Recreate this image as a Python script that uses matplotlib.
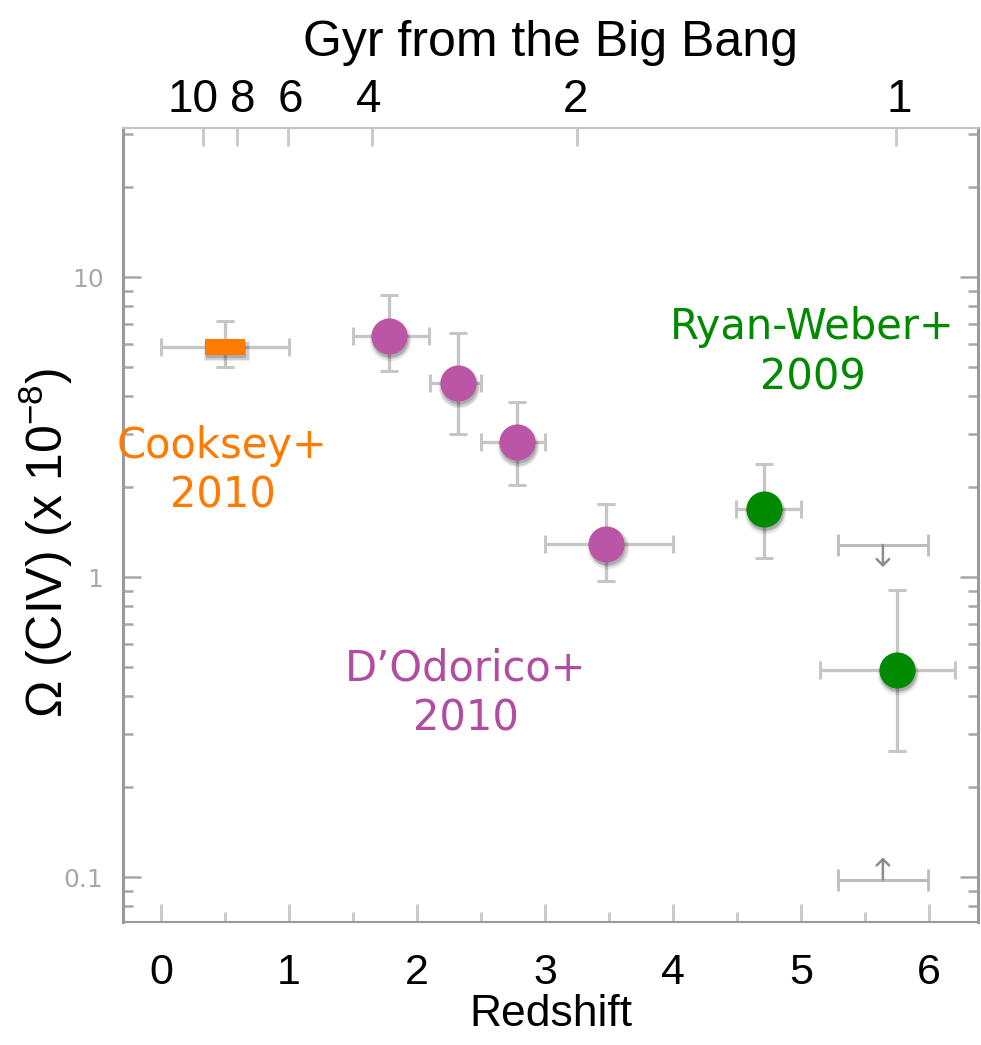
import matplotlib
matplotlib.use("Agg")
import matplotlib.pyplot as plt
import matplotlib.transforms as mtransforms
from matplotlib import font_manager as fm
from matplotlib.ticker import LogLocator, NullFormatter, FixedLocator, MultipleLocator

# ---------------- data ----------------
# Cooksey+2010
cook_z = [0.5]
cook_om = [5.84]
cook_zerr = [0.5]
cook_om_lo = [0.84]
cook_om_hi = [1.29]

# D'Odorico+2010
dod_z = [1.78, 2.32, 2.78, 3.48]
dod_om = [6.37, 4.43, 2.81, 1.29]
dod_z_lo = [0.28, 0.22, 0.28, 0.48]
dod_z_hi = [0.31, 0.18, 0.22, 0.52]
dod_om_lo = [1.50, 1.43, 0.78, 0.32]
dod_om_hi = [2.34, 2.06, 1.03, 0.46]

# Ryan-Weber+2009
rw_z = [4.71, 5.75]
rw_om = [1.69, 0.49]
rw_z_lo = [0.22, 0.60]
rw_z_hi = [0.29, 0.45]
rw_om_lo = [0.53, 0.226]
rw_om_hi = [0.69, 0.415]

# limits (gray)
lim_z = [5.64, 5.64]
lim_om = [1.28, 0.098]
lim_zerr = [0.35, 0.35]
lim_dir = ["upper", "lower"]

# top axis: Gyr from the Big Bang
age_ticks_z = [0.33, 0.59, 0.99, 1.65, 3.25, 5.74]
age_labels = ["10", "8", "6", "4", "2", "1"]

x_ticks = [0, 1, 2, 3, 4, 5, 6]

# ---------------- style ----------------
def has_font(name):
    try:
        fm.findfont(name, fallback_to_default=False)
        return True
    except Exception:
        return False

narrow = "Liberation Sans Narrow" if has_font("Liberation Sans Narrow") else "Liberation Sans"
plt.rcParams["font.family"] = [narrow, "DejaVu Sans"]
plt.rcParams["mathtext.default"] = "regular"

ORANGE = "#ff7a00"
PURPLE = "#bb55a5"
GREEN = "#008a00"
ERRC = "#c6c6c6"
AXC = "#9a9a9a"
age_label_nudge_px = [-10, 6, 3, -3, -2, 4]   # small horizontal nudges of crowded top labels

fig = plt.figure(figsize=(9.81, 10.45), dpi=100)
ax = fig.add_axes([123 / 981, 1 - 922 / 1045, (978 - 123) / 981, (922 - 128) / 1045])
ax.set_yscale("log")
ax.set_xlim(-0.297, 6.383)
ax.set_ylim(0.0708, 31.4)

for s in ax.spines.values():
    s.set_color(AXC)
    s.set_linewidth(1.5)
ax.spines["left"].set_linewidth(2.2)
ax.spines["right"].set_linewidth(2.2)
ax.spines["top"].set_color("#c4c4c4")

# ticks
ax.xaxis.set_major_locator(FixedLocator(x_ticks))
ax.xaxis.set_minor_locator(MultipleLocator(0.5))
ax.yaxis.set_minor_locator(LogLocator(base=10, subs=range(2, 10), numticks=20))
ax.yaxis.set_minor_formatter(NullFormatter())
ax.set_yticks([0.1, 1, 10])
ax.set_yticklabels(["0.1", "1", "10"], family="DejaVu Sans")
ax.tick_params(axis="x", which="major", direction="in", length=13, width=2, color="#c8c8c8",
               top=False, bottom=True, labelsize=31, pad=22, labelcolor="black")
ax.tick_params(axis="x", which="minor", direction="in", length=7, width=2, color="#c8c8c8",
               top=False, bottom=True)
ax.tick_params(axis="y", which="major", direction="in", length=13, width=1.8, color="#a8a8a8",
               left=True, right=True, labelsize=18, pad=14, labelcolor="#a8a8a8")
ax.tick_params(axis="y", which="minor", direction="in", length=7, width=1.8, color="#a8a8a8",
               left=True, right=True)

ax.set_xlabel("Redshift", fontsize=32, labelpad=1)
ax.set_ylabel("Ω (CIV) (x 10$^{-8}$)", fontsize=36)
ax.yaxis.set_label_coords(-0.056, 0.478)

# top axis: ticks + labels
top = ax.secondary_xaxis("top")
top.set_xticks(age_ticks_z)
top.set_xticklabels([])
top.tick_params(direction="in", length=13, width=2, color="#c8c8c8")
top.spines["top"].set_color("#c4c4c4")
top.spines["top"].set_linewidth(1.5)
blend = mtransforms.blended_transform_factory(ax.transData, ax.transAxes)
for z, lab, nud in zip(age_ticks_z, age_labels, age_label_nudge_px):
    tr = blend + mtransforms.Affine2D().translate(nud, 16)
    ax.text(z, 1.0, lab, transform=tr, ha="center", va="baseline", fontsize=33, color="black")
ax.text(0.5, 1.0, "Gyr from the Big Bang", transform=ax.transAxes + mtransforms.Affine2D().translate(0, 72),
        ha="center", va="baseline", fontsize=36, color="black")

eb_kw = dict(fmt="none", ecolor=ERRC, elinewidth=2.4, capsize=6.5, capthick=2.2, zorder=2)

def shadow(x, y, marker, markersize):
    for dx, dy, a, grow in [(1.5, -4, 0.08, 4), (1.5, -3.5, 0.12, 2), (1, -3, 0.16, 0)]:
        tr = mtransforms.offset_copy(ax.transData, fig=fig, x=dx, y=dy, units="dots")
        ax.plot(x, y, linestyle="none", marker=marker, markersize=markersize + grow,
                color="black", alpha=a, transform=tr, markeredgewidth=0, zorder=3)

# Cooksey
ax.errorbar(cook_z, cook_om, xerr=cook_zerr, yerr=[cook_om_lo, cook_om_hi], **eb_kw)
rect = [(-1, -0.42), (1, -0.42), (1, 0.42), (-1, 0.42), (-1, -0.42)]
shadow(cook_z, cook_om, rect, 29)
ax.plot(cook_z, cook_om, linestyle="none", marker=rect, markersize=29, color=ORANGE,
        markeredgewidth=0, zorder=4)

# D'Odorico
ax.errorbar(dod_z, dod_om, xerr=[dod_z_lo, dod_z_hi], yerr=[dod_om_lo, dod_om_hi], **eb_kw)
shadow(dod_z, dod_om, "o", 26)
ax.plot(dod_z, dod_om, linestyle="none", marker="o", markersize=26, color=PURPLE,
        markeredgewidth=0, zorder=4)

# Ryan-Weber
ax.errorbar(rw_z, rw_om, xerr=[rw_z_lo, rw_z_hi], yerr=[rw_om_lo, rw_om_hi], **eb_kw)
shadow(rw_z, rw_om, "o", 26)
ax.plot(rw_z, rw_om, linestyle="none", marker="o", markersize=26, color=GREEN,
        markeredgewidth=0, zorder=4)

# limits
ax.errorbar(lim_z, lim_om, xerr=lim_zerr, fmt="none", ecolor="#bcbcbc", elinewidth=2.2,
            capsize=8, capthick=2, zorder=2)
for z, om, d in zip(lim_z, lim_om, lim_dir):
    dy = -16 if d == "upper" else 16
    ax.annotate("", xy=(z, om), xytext=(0, dy), textcoords="offset points",
                arrowprops=dict(arrowstyle="<-,head_length=0.45,head_width=0.45", color="#8c8c8c",
                                lw=1.8, shrinkA=0, shrinkB=0))

# labels
ax.text(0.48, 2.26, "Cooksey+\n2010", color=ORANGE, fontsize=30, ha="center", va="center",
        family="DejaVu Sans", linespacing=1.25)
ax.text(2.38, 0.41, "D\u2019Odorico+\n2010", color="#b24ca2", fontsize=30, ha="center", va="center",
        family="DejaVu Sans", linespacing=1.25)
ax.text(5.09, 5.6, "Ryan-Weber+\n2009", color=GREEN, fontsize=30, ha="center", va="center",
        family="DejaVu Sans", linespacing=1.25)

fig.savefig("out.png", dpi=100)
